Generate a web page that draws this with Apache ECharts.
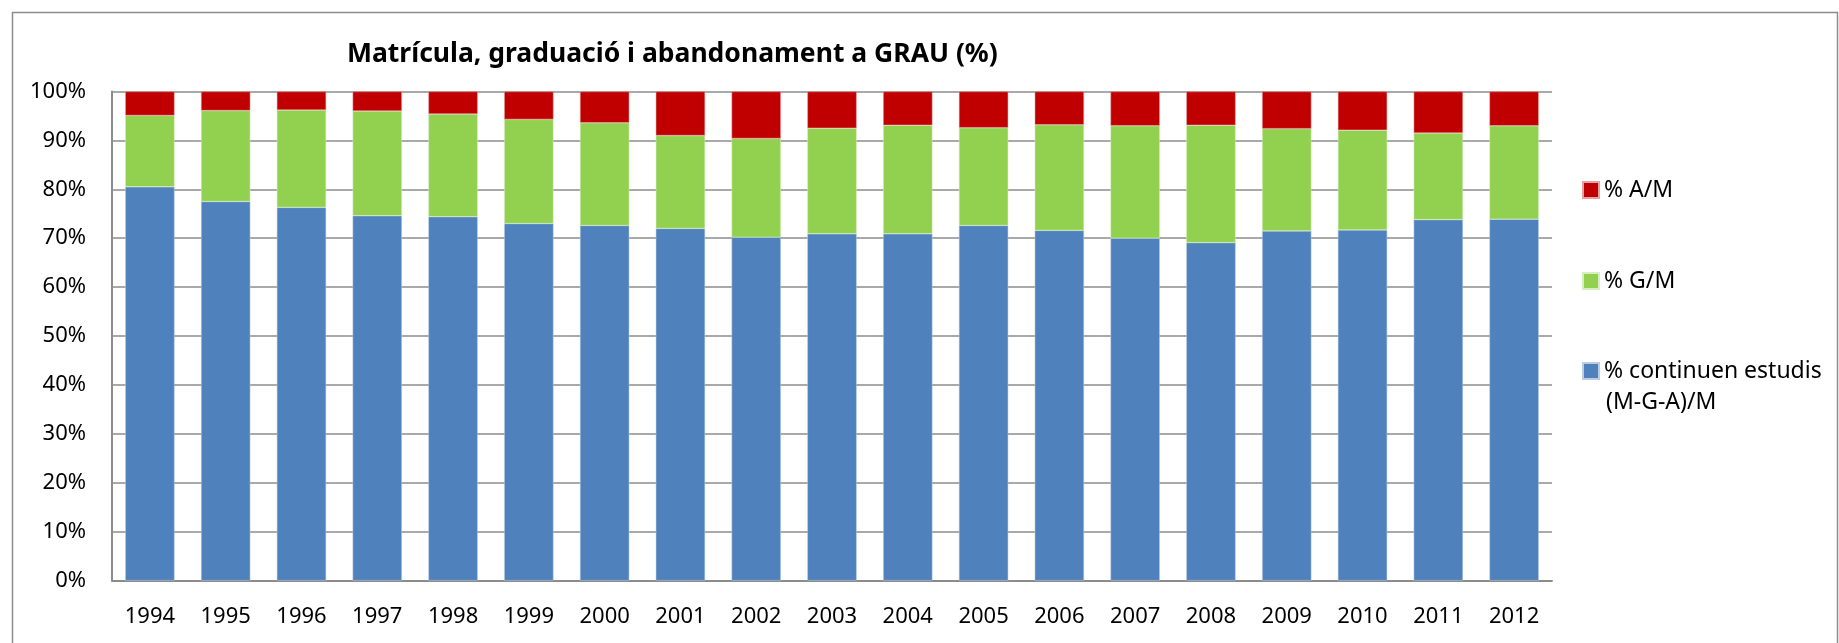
<!DOCTYPE html>
<html>
  <head>
    <meta charset="utf-8" />
    <title>Matrícula, graduació i abandonament a GRAU</title>
    <script src="https://cdn.jsdelivr.net/npm/echarts@6/dist/echarts.min.js"></script>
    <style>
      html, body { margin: 0; padding: 0; background: #fff; }
    </style>
  </head>
  <body>
    <div id="main" style="width: 1839px; height: 643px"></div>
    <script type="text/javascript">
      var years = ["1994", "1995", "1996", "1997", "1998", "1999", "2000", "2001", "2002", "2003",
                   "2004", "2005", "2006", "2007", "2008", "2009", "2010", "2011", "2012"];
      // % continuen estudis (M-G-A)/M
      var continuen = [80.5, 77.5, 76.3, 74.6, 74.4, 73.0, 72.6, 72.0, 70.2, 70.9,
                       70.9, 72.6, 71.6, 70.0, 69.1, 71.5, 71.7, 73.8, 73.9];
      // % G/M
      var graduats = [14.6, 18.6, 19.9, 21.4, 21.0, 21.3, 21.0, 19.0, 20.2, 21.6,
                      22.2, 20.0, 21.6, 23.0, 24.0, 20.9, 20.4, 17.7, 19.1];
      // % A/M
      var abandonen = [4.9, 3.9, 3.8, 4.0, 4.6, 5.7, 6.4, 9.0, 9.6, 7.5,
                       6.9, 7.4, 6.8, 7.0, 6.9, 7.6, 7.9, 8.5, 7.0];

      var font = "Noto Sans";
      var myChart = echarts.init(document.getElementById("main"));

      function legendItem(name, top) {
        return {
          left: 1582,
          top: top,
          padding: 0,
          orient: "vertical",
          data: [name],
          itemWidth: 16,
          itemHeight: 16,
          itemGap: 8,
          icon: "rect",
          selectedMode: false,
          textStyle: { fontFamily: font, fontSize: 23, color: "#000", lineHeight: 30 }
        };
      }

      var option = {
        animation: false,
        backgroundColor: "#fff",
        title: {
          text: "Matrícula, graduació i abandonament a GRAU (%)",
          left: 347,
          top: 38,
          padding: 0,
          textStyle: { fontFamily: font, fontSize: 26.5, fontWeight: "bold", color: "#000", lineHeight: 32 }
        },
        legend: [
          legendItem("% A/M", 175),
          legendItem("% G/M", 266),
          legendItem("% continuen estudis", 356)
        ],
        graphic: [
          {
            type: "rect",
            left: 10,
            top: 10,
            shape: { width: 1825, height: 700 },
            style: { fill: null, stroke: "#8c8c8c", lineWidth: 1.5 },
            silent: true
          },
          {
            type: "text",
            left: 1606,
            top: 391,
            style: { text: "(M-G-A)/M", font: "23px Noto Sans", fill: "#000" }
          }
        ],
        grid: { left: 112, right: 287, top: 91.5, bottom: 62.4 },
        xAxis: {
          type: "category",
          data: years,
          axisLine: { lineStyle: { color: "#8c8c8c", width: 2 } },
          axisTick: { show: false },
          axisLabel: { fontFamily: font, fontSize: 22, color: "#000", margin: 25, lineHeight: 22 }
        },
        yAxis: {
          type: "value",
          min: 0,
          max: 100,
          interval: 10,
          axisLine: { show: true, lineStyle: { color: "#8c8c8c", width: 2 } },
          axisTick: { show: false },
          splitLine: { lineStyle: { color: "#8c8c8c", width: 1.5 } },
          axisLabel: { fontFamily: font, fontSize: 22, color: "#000", margin: 26, formatter: "{value}%" }
        },
        series: [
          {
            name: "% continuen estudis",
            type: "bar",
            stack: "total",
            barCategoryGap: "35%",
            itemStyle: { color: "#4F81BD", borderColor: "#b9cde5", borderWidth: 0.5 },
            data: continuen
          },
          {
            name: "% G/M",
            type: "bar",
            stack: "total",
            itemStyle: { color: "#92D050", borderColor: "#d7eec0", borderWidth: 0.5 },
            data: graduats
          },
          {
            name: "% A/M",
            type: "bar",
            stack: "total",
            itemStyle: { color: "#C00000", borderColor: "#e6a0a0", borderWidth: 0.5 },
            data: abandonen
          }
        ]
      };
      myChart.setOption(option);
    </script>
  </body>
</html>
